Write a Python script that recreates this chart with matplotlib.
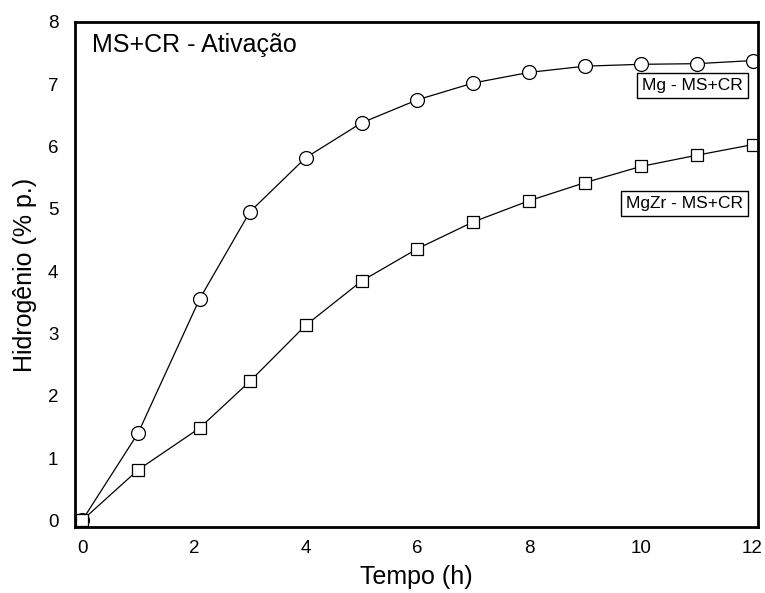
import matplotlib.pyplot as plt

plt.rcParams["font.family"] = ["Liberation Sans", "DejaVu Sans"]

# Hydrogen uptake (wt %) vs time (h)
tempo_mg = [0, 1, 2.1, 3, 4, 5, 6, 7, 8, 9, 10, 11, 12]
h_mg = [0, 1.40, 3.55, 4.95, 5.82, 6.38, 6.75, 7.02, 7.19, 7.29, 7.32, 7.33, 7.38]

tempo_mgzr = [0, 1, 2.1, 3, 4, 5, 6, 7, 8, 9, 10, 11, 12]
h_mgzr = [0, 0.81, 1.48, 2.23, 3.13, 3.84, 4.36, 4.79, 5.13, 5.42, 5.68, 5.86, 6.03]

x_ticks = [0, 2, 4, 6, 8, 10, 12]
y_ticks = [0, 1, 2, 3, 4, 5, 6, 7, 8]

fig = plt.figure(figsize=(7.65, 5.93), dpi=100)
ax = fig.add_axes([0.098, 0.111, 0.893, 0.852])

ax.plot(tempo_mg, h_mg, color="black", lw=0.9, marker="o", ms=10,
        mfc="white", mec="black", mew=0.9)
ax.plot(tempo_mgzr, h_mgzr, color="black", lw=0.9, marker="s", ms=9,
        mfc="white", mec="black", mew=0.9)

ax.set_xlim(-0.13, 12.1)
ax.set_ylim(-0.11, 8.0)
ax.set_xticks(x_ticks)
ax.set_yticks(y_ticks)
ax.tick_params(length=0, labelsize=13.5)
ax.tick_params(axis="x", pad=9)
ax.tick_params(axis="y", pad=12)

for s in ax.spines.values():
    s.set_linewidth(2)

ax.set_xlabel("Tempo (h)", fontsize=18, labelpad=6)
ax.set_ylabel("Hidrogênio (% p.)", fontsize=18, labelpad=8)

ax.text(0.025, 0.978, "MS+CR - Ativação", transform=ax.transAxes,
        fontsize=18, va="top", ha="left")

box = dict(boxstyle="square,pad=0.3", fc="white", ec="black", lw=1)
ax.text(11.83, 6.98, "Mg - MS+CR", fontsize=12.5, ha="right", va="center", bbox=box)
ax.text(11.83, 5.09, "MgZr - MS+CR", fontsize=12.5, ha="right", va="center", bbox=box)

fig.savefig("out.png", dpi=100)
